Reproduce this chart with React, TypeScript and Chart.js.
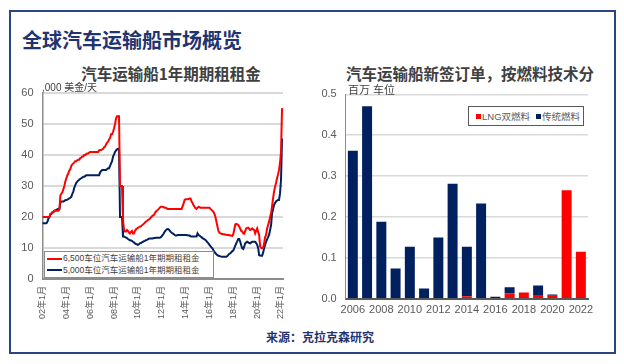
import React, { useEffect, useRef } from 'react';
import { Chart, registerables } from 'chart.js';
Chart.register(...registerables);

const FONT = "'Liberation Sans', 'Noto Sans CJK SC', sans-serif";
const CJK = "'Noto Sans CJK SC', 'Liberation Sans', sans-serif";

// ---------- Left chart: 1-year time charter rates ('000 USD/day), monthly from 2002-01 ----------
const YEARS = ['02', '03', '04', '05', '06', '07', '08', '09', '10', '11', '12', '13', '14', '15', '16', '17', '18', '19', '20', '21', '22'];
const MONTHS_IN_LAST_YEAR = 3;
const RATE_TICKS = ['02年1月', '04年1月', '06年1月', '08年1月', '10年1月', '12年1月', '14年1月', '16年1月', '18年1月', '20年1月', '22年1月'];

const RATE_6500 = [
  20, 20, 20, 20, 20, 20, 20, 20, 21, 21, 21.5, 21.5,
  22, 22, 22, 22, 22, 22.5, 27, 27.5, 28, 29, 30, 31.5,
  32.5, 33.5, 34, 35, 35.5, 36.5, 37, 37.3, 37.6, 38, 38, 38.3,
  38.5, 38.5, 39, 39.2, 39.5, 39.5, 40, 40, 40.3, 40.5, 40.5, 40.8,
  41, 41, 41, 41, 41, 41, 41, 41, 41, 41.5, 41.6, 41.6,
  41.8, 42, 42.5, 42.7, 43.5, 44, 44.3, 45, 45.5, 46.7, 46.7, 47.5,
  48.6, 50, 51.8, 52.5, 52.5, 52.5, 30, 30, 30, 19, 16, 15.3,
  15.3, 15.8, 15.5, 15, 14.7, 15.2, 15.5, 14.7, 14.7, 15.5, 16, 16.3,
  16.5, 16.7, 16.9, 17, 17.3, 17.6, 17.8, 18.2, 18.5, 18.7, 19, 19.2,
  19.4, 19.8, 20.2, 20.5, 20.6, 21.2, 21.7, 22, 22.3, 22.6, 23, 23.3,
  23.3, 23.3, 23.2, 23, 23, 22.8, 22.6, 22.6, 22.6, 22.6, 22.6, 22.6,
  22.6, 22.6, 22.6, 22.6, 22.6, 22.6, 22.6, 22.6, 22.6, 23.5, 24.4, 25.5,
  25.7, 25.7, 25.7, 25.8, 26, 26, 25, 24.5, 23.8, 23.3, 22.8, 22.6,
  23, 23.3, 23.2, 23, 23, 23, 23, 23, 23, 23, 23, 23,
  23, 22.6, 22.3, 22, 21.7, 21, 20.1, 18.5, 17, 15.5, 15, 14.7,
  14.6, 14.5, 14.4, 14.4, 14.3, 14.3, 14.2, 14.2, 14.1, 14, 14, 13.9,
  14.5, 16, 17.6, 17.8, 17.6, 17.4, 16.9, 16.2, 15.5, 15.3, 14.7, 14.6,
  15.5, 16.3, 16.5, 16.6, 16.2, 15.8, 16, 16.3, 16, 15.8, 14.7, 15.5,
  16.3, 15.2, 14.2, 10.5, 10, 9.9, 10, 11.5, 13.5, 14.2, 16.3, 17.4,
  18.5, 20, 21.2, 23.5, 26, 28.2, 29.8, 31, 32.5, 33.7, 35.2, 37.5,
  41, 54.8, 55,
];

const RATE_5000 = [
  18, 18, 18, 18, 18, 18.5, 19.5, 20, 21, 21.2, 21.5, 21.7,
  22, 22.2, 22.3, 22.5, 22.6, 22.6, 24.7, 25, 25, 25, 25.2, 25.4,
  25.5, 25.6, 25.8, 26, 26.2, 26.5, 27.5, 28.2, 29.5, 30.3, 31, 31.4,
  31.8, 32, 32.3, 32.5, 32.7, 33, 33, 33.2, 33.5, 33.5, 33.5, 33.5,
  33.5, 33.5, 33.5, 33.5, 33.5, 33.5, 33.5, 33.5, 33.5, 33.5, 34.4, 34.8,
  35.2, 35.2, 35.2, 35.2, 35.2, 35.5, 35.7, 35.7, 36.5, 37.3, 38, 39.5,
  40.2, 41, 41.5, 41.8, 42, 42, 20, 20, 20, 13.7, 13.7, 13.5,
  13.4, 13.2, 12.9, 12.7, 12.5, 12.4, 12.3, 12, 11.8, 11.5, 11.3, 11.2,
  11, 11.2, 11.5, 11.6, 11.8, 12, 12.2, 12.3, 12.5, 12.6, 12.8, 13,
  13.1, 13.1, 13.1, 13.1, 13.2, 13.2, 13.3, 13.3, 13.3, 13.3, 13.3, 13.5,
  13.8, 14.2, 14.7, 15.3, 15.7, 16, 16.1, 16, 15.6, 15.2, 14.9, 14.7,
  14.5, 14.2, 14, 14, 14.2, 14.2, 14.2, 14.2, 14.2, 14.2, 14.2, 14.2,
  14.2, 14.2, 14.1, 14, 14, 13.8, 13.7, 13.7, 13.7, 13.7, 13.7, 13.7,
  14.7, 14.2, 14, 13.7, 13.5, 13.2, 13, 12.8, 12.6, 12.2, 11.8, 11.5,
  11, 10.6, 10.2, 9.9, 9.3, 8.8, 8.3, 8, 7.7, 7.5, 7.4, 7.3,
  7.2, 7.2, 7.2, 7.2, 7.2, 7.2, 7.4, 7.8, 8.1, 8.3, 8.6, 9,
  9.2, 10, 10.8, 11.5, 12.2, 12.9, 12.9, 12, 10.8, 9.9, 9.7, 10.5,
  11.5, 11.8, 12, 11.8, 11.6, 11.5, 11.8, 12, 12, 12, 12, 11.6,
  11, 10, 7.7, 7.6, 7.5, 7.5, 8.5, 9.9, 11, 12, 12.8, 13.5,
  14.2, 15.8, 17.4, 21.2, 22.5, 23.9, 24.5, 25, 25.3, 25.5, 25.5, 27.6,
  32, 45, 45,
];

// ---------- Right chart: new orders by fuel technology (million CEU) ----------
const ORDER_YEARS = ['2006', '2007', '2008', '2009', '2010', '2011', '2012', '2013', '2014', '2015', '2016', '2017', '2018', '2019', '2020', '2021', '2022'];
const ORDER_TICKS = ['2006', '2008', '2010', '2012', '2014', '2016', '2018', '2020', '2022'];
const LNG_DUAL = [0, 0, 0, 0, 0, 0, 0, 0, 0.006, 0, 0, 0.013, 0.015, 0.009, 0.007, 0.265, 0.115];
const CONVENTIONAL = [0.362, 0.471, 0.188, 0.074, 0.127, 0.025, 0.15, 0.281, 0.121, 0.233, 0.005, 0.015, 0, 0.023, 0.003, 0, 0];

const RED = '#FF0000';
const NAVY = '#002060';

function monthLabels(): string[] {
  const out: string[] = [];
  YEARS.forEach((y, i) => {
    const n = i === YEARS.length - 1 ? MONTHS_IN_LAST_YEAR : 12;
    for (let m = 1; m <= n; m++) out.push(`${y}年${m}月`);
  });
  return out;
}

function fixY(width: number) {
  return (scale: any) => {
    scale.width = width;
    scale.paddingTop = 0;
    scale.paddingBottom = 0;
  };
}
function fixX(height: number) {
  return (scale: any) => {
    scale.height = height;
    scale.paddingLeft = 0;
    scale.paddingRight = 0;
  };
}

function LineChart() {
  const ref = useRef<HTMLCanvasElement>(null);
  useEffect(() => {
    const labels = monthLabels();
    const chart = new Chart(ref.current!, {
      type: 'line',
      data: {
        labels,
        datasets: [
          { label: '6,500车位汽车运输船1年期期租租金', data: RATE_6500, borderColor: RED, backgroundColor: RED, borderWidth: 2, pointRadius: 0, tension: 0 },
          { label: '5,000车位汽车运输船1年期期租租金', data: RATE_5000, borderColor: NAVY, backgroundColor: NAVY, borderWidth: 2, pointRadius: 0, tension: 0 },
        ],
      },
      options: {
        responsive: false,
        animation: false,
        layout: { padding: { top: 10, right: 12, left: 0, bottom: 0 } },
        plugins: { legend: { display: false }, tooltip: { enabled: false } },
        scales: {
          x: {
            type: 'category',
            offset: false,
            grid: { display: false, drawTicks: false },
            border: { display: true, color: '#8C8C8C', width: 2 },
            ticks: {
              autoSkip: false,
              maxRotation: 90,
              minRotation: 90,
              padding: 7,
              color: '#595959',
              font: { family: FONT, size: 9 },
              callback: function (this: any, value: any) {
                const l = this.getLabelForValue(value);
                return RATE_TICKS.includes(l) ? l : null;
              },
            },
            afterFit: fixX(49),
          },
          y: {
            min: 0,
            max: 60,
            grid: { color: '#D9D9D9', lineWidth: 2, drawTicks: false },
            border: { display: true, color: '#8C8C8C', width: 1.5 },
            ticks: { stepSize: 10, padding: 9, color: '#595959', font: { family: FONT, size: 11 } },
            afterFit: fixY(32.5),
          },
        },
      },
    });
    return () => chart.destroy();
  }, []);
  return <canvas ref={ref} width={285} height={245} style={{ position: 'absolute', left: 10, top: 83, width: 285, height: 245 }} />;
}

function BarChart() {
  const ref = useRef<HTMLCanvasElement>(null);
  useEffect(() => {
    const chart = new Chart(ref.current!, {
      type: 'bar',
      data: {
        labels: ORDER_YEARS,
        datasets: [
          { label: 'LNG双燃料', data: LNG_DUAL, backgroundColor: RED, stack: 's', barPercentage: 0.7, categoryPercentage: 1 },
          { label: '传统燃料', data: CONVENTIONAL, backgroundColor: NAVY, stack: 's', barPercentage: 0.7, categoryPercentage: 1 },
        ],
      },
      options: {
        responsive: false,
        animation: false,
        layout: { padding: { top: 10.3, right: 12, left: 0, bottom: 0 } },
        plugins: { legend: { display: false }, tooltip: { enabled: false } },
        scales: {
          x: {
            stacked: true,
            grid: { display: false, drawTicks: false },
            border: { display: true, color: '#595959', width: 2 },
            ticks: {
              autoSkip: false,
              maxRotation: 0,
              padding: 5,
              color: '#595959',
              font: { family: FONT, size: 11 },
              callback: function (this: any, value: any) {
                const l = this.getLabelForValue(value);
                return ORDER_TICKS.includes(l) ? l : null;
              },
            },
            afterFit: fixX(21.3),
          },
          y: {
            stacked: true,
            min: 0,
            max: 0.5,
            grid: { color: '#D9D9D9', lineWidth: 1.5, drawTicks: false },
            border: { display: true, color: '#8C8C8C', width: 1 },
            ticks: {
              stepSize: 0.1,
              padding: 9,
              color: '#595959',
              font: { family: FONT, size: 11 },
              callback: (v: any) => Number(v).toFixed(1),
            },
            afterFit: fixY(45.7),
          },
        },
      },
    });
    return () => chart.destroy();
  }, []);
  return <canvas ref={ref} width={300} height={236} style={{ position: 'absolute', left: 300, top: 84, width: 300, height: 236 }} />;
}

const abs = (s: React.CSSProperties): React.CSSProperties => ({ position: 'absolute', whiteSpace: 'nowrap', ...s });

export default function App() {
  return (
    <div style={{ position: 'absolute', left: 0, top: 0, width: 624, height: 364, background: '#fff', overflow: 'hidden', fontFamily: FONT }}>
      <div style={abs({ left: 9, top: 10, width: 607, height: 344, border: '2px solid #2A4585', boxSizing: 'border-box' })} />
      <div style={abs({ left: 22, top: 29, fontFamily: CJK, fontWeight: 700, fontSize: 20, lineHeight: '22px', color: '#1F3470' })}>全球汽车运输船市场概览</div>

      <div style={abs({ left: 40, width: 262, top: 64, textAlign: 'center', fontFamily: CJK, fontWeight: 700, fontSize: 15.5, lineHeight: '18px', color: '#404040' })}>汽车运输船1年期期租租金</div>
      <div style={abs({ left: 300, width: 340, top: 64, textAlign: 'center', fontFamily: CJK, fontWeight: 700, fontSize: 15.5, lineHeight: '18px', color: '#404040', marginLeft: 0 })}>
        <span style={{ position: 'relative', left: 0 }}>汽车运输船新签订单，按燃料技术分</span>
      </div>

      <LineChart />
      <BarChart />

      <div style={abs({ left: 42, top: 82, fontSize: 10, lineHeight: '12px', color: '#404040' })}>,000 美金/天</div>
      <div style={abs({ left: 348, top: 84, fontSize: 11, lineHeight: '13px', color: '#404040' })}>百万 车位</div>

      <div style={abs({ left: 44, top: 251, width: 170, height: 27, border: '1.5px solid #8C8C8C', boxSizing: 'border-box', background: '#fff', padding: '1px 0 0 2px' })}>
        {[['6,500车位汽车运输船1年期期租租金', RED], ['5,000车位汽车运输船1年期期租租金', NAVY]].map(([t, c]) => (
          <div key={t} style={{ display: 'flex', alignItems: 'center', height: 11.5 }}>
            <span style={{ display: 'inline-block', width: 15, height: 2, background: c, marginRight: 1 }} />
            <span style={{ fontSize: 8.5, color: '#404040', lineHeight: '11px' }}>{t}</span>
          </div>
        ))}
      </div>

      <div style={abs({ left: 468, top: 106, width: 116, height: 20, border: '1px solid #595959', boxSizing: 'border-box', background: '#fff', display: 'flex', alignItems: 'center', paddingLeft: 7 })}>
        <span style={{ display: 'inline-block', width: 5, height: 5, background: RED, marginRight: 1 }} />
        <span style={{ fontSize: 9.5, color: '#595959', marginRight: 6 }}>LNG双燃料</span>
        <span style={{ display: 'inline-block', width: 5, height: 5, background: NAVY, marginRight: 1 }} />
        <span style={{ fontSize: 9.5, color: '#595959' }}>传统燃料</span>
      </div>

      <div style={abs({ left: 220, width: 200, top: 329, textAlign: 'center', fontFamily: CJK, fontWeight: 700, fontSize: 12, lineHeight: '16px', color: '#1F3470' })}>来源：克拉克森研究</div>
    </div>
  );
}
